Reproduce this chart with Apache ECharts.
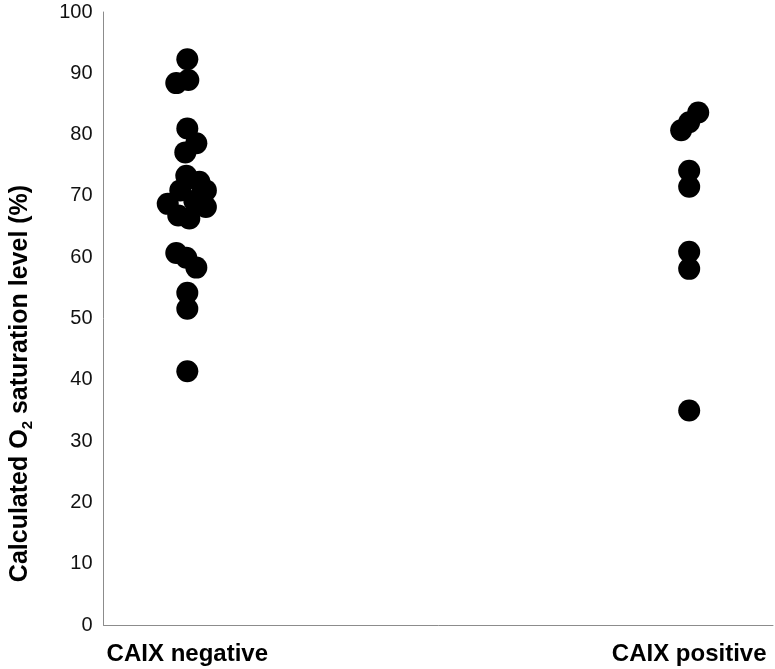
<!DOCTYPE html>
<html>
<head>
<meta charset="utf-8">
<script src="https://cdn.jsdelivr.net/npm/echarts@6/dist/echarts.min.js"></script>
<style>
html,body{margin:0;padding:0;background:#fff;}
#chart{width:775px;height:669px;}
</style>
</head>
<body>
<div id="chart"></div>
<script>
// Categories
const categories = ['CAIX negative', 'CAIX positive'];

// CAIX negative: O2 saturation values (%) and horizontal jitter (category units)
const negativeValues = [92.3, 88.4, 88.9, 81.0, 78.6, 77.1, 73.3, 72.3, 70.9, 70.9, 68.7, 68.2, 69.2, 66.8, 66.3, 60.7, 59.9, 58.3, 54.2, 51.6, 41.4];
const negativeJitter = [0, -0.022, 0.002, 0, 0.018, -0.004, -0.002, 0.024, 0.037, -0.014, -0.039, 0.037, 0.014, -0.018, 0.004, -0.022, -0.002, 0.018, 0, 0, 0];

// CAIX positive
const positiveValues = [83.6, 82.0, 80.7, 74.1, 71.5, 60.9, 58.1, 35.0];
const positiveJitter = [0.018, 0, -0.016, 0, 0, 0, 0, 0];

// Y-axis ticks
const yTicks = [0, 10, 20, 30, 40, 50, 60, 70, 80, 90, 100];

function toPoints(values, jitter, catIndex) {
  return values.map((v, i) => [catIndex + 1 + jitter[i], v]);
}

const FONT = 'Liberation Sans, Arial, Helvetica, sans-serif';
const chart = echarts.init(document.getElementById('chart'));
chart.setOption({
  animation: false,
  backgroundColor: '#ffffff',
  grid: { left: 94, right: 2, top: 12, bottom: 44, containLabel: false },
  xAxis: {
    type: 'value',
    min: 0.833,
    max: 2.167,
    splitLine: { show: false },
    axisTick: { show: false },
    axisLine: { show: true, lineStyle: { color: '#8c8c8c', width: 1 } },
    axisLabel: {
      customValues: [1, 2],
      showMinLabel: true,
      showMaxLabel: true,
      formatter: function (v) { return categories[Math.round(v) - 1] || ''; },
      fontFamily: FONT,
      fontSize: 24,
      fontWeight: 'bold',
      color: '#000',
      margin: 17
    }
  },
  yAxis: {
    type: 'value',
    min: yTicks[0],
    max: yTicks[yTicks.length - 1],
    interval: 10,
    splitLine: { show: false },
    axisTick: { show: false },
    axisLine: { show: true, lineStyle: { color: '#8c8c8c', width: 1 } },
    axisLabel: { fontFamily: FONT, fontSize: 20, color: '#111', margin: 11 },
    name: '{a|Calculated O}{s|2}{a| saturation level (%)}',
    nameLocation: 'middle',
    nameGap: 68,
    nameTextStyle: {
      fontFamily: FONT,
      fontSize: 25,
      fontWeight: 'bold',
      color: '#000',
      padding: [0, 130, 0, 0],
      rich: {
        a: { fontFamily: FONT, fontSize: 25, fontWeight: 'bold', color: '#000', lineHeight: 30 },
        s: { fontFamily: FONT, fontSize: 15, fontWeight: 'bold', color: '#000', verticalAlign: 'bottom', lineHeight: 17 }
      }
    }
  },
  series: [
    {
      name: categories[0],
      type: 'scatter',
      symbol: 'circle',
      symbolSize: 22,
      itemStyle: { color: '#000', opacity: 1 },
      data: toPoints(negativeValues, negativeJitter, 0)
    },
    {
      name: categories[1],
      type: 'scatter',
      symbol: 'circle',
      symbolSize: 22,
      itemStyle: { color: '#000', opacity: 1 },
      data: toPoints(positiveValues, positiveJitter, 1)
    }
  ]
});
</script>
</body>
</html>
